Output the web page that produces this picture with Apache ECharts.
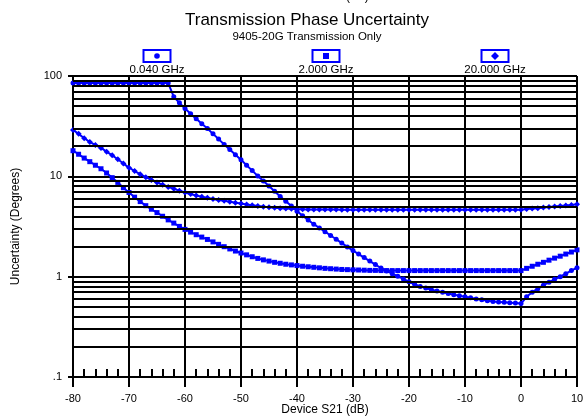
<!DOCTYPE html>
<html>
<head>
<meta charset="utf-8">
<style>
  html, body { margin: 0; padding: 0; background: #fff; }
  #chart { width: 585px; height: 418px; }
</style>
<script src="https://cdn.jsdelivr.net/npm/echarts@6/dist/echarts.min.js"></script>
</head>
<body>
<div id="chart"></div>
<script>
// Device S21 sweep, dB
const s21 = [-80,-79,-78,-77,-76,-75,-74,-73,-72,-71,-70,-69,-68,-67,-66,-65,-64,-63,-62,-61,
  -60,-59,-58,-57,-56,-55,-54,-53,-52,-51,-50,-49,-48,-47,-46,-45,-44,-43,-42,-41,
  -40,-39,-38,-37,-36,-35,-34,-33,-32,-31,-30,-29,-28,-27,-26,-25,-24,-23,-22,-21,
  -20,-19,-18,-17,-16,-15,-14,-13,-12,-11,-10,-9,-8,-7,-6,-5,-4,-3,-2,-1,
  0,1,2,3,4,5,6,7,8,9,10];

// Transmission phase uncertainty, degrees
const uncert040 = [85,85,85,85,85,85,85,85,85,85,85,85,85,85,85,85,85,85,
  62,54,47.5,42,37.5,33.5,30,26.5,23.5,20.8,
  18.5,16.4,14.6,12.9,11.4,10.1,9.0,8.0,7.1,6.3,
  5.65,5.05,4.5,4.05,3.67,3.33,3.06,2.81,2.57,2.36,
  2.16,1.98,1.82,1.68,1.55,1.43,1.32,1.22,1.14,1.07,
  1.01,0.95,0.89,0.84,0.8,0.77,0.74,0.72,0.7,0.68,
  0.66,0.645,0.63,0.615,0.6,0.59,0.575,0.565,0.56,0.555,
  0.55,0.545,0.54,0.63,0.7,0.76,0.82,0.88,0.94,1.0,
  1.07,1.15,1.23];

const uncert2000 = [18,16.6,15.2,14,12.9,11.9,10.8,9.7,8.7,7.7,
  6.9,6.2,5.6,5.1,4.7,4.35,4.0,3.68,3.42,3.17,
  2.96,2.78,2.62,2.48,2.35,2.22,2.1,1.99,1.89,1.8,
  1.72,1.65,1.58,1.52,1.47,1.43,1.39,1.36,1.33,1.31,
  1.29,1.27,1.255,1.24,1.225,1.21,1.2,1.19,1.18,1.175,
  1.17,1.165,1.16,1.155,1.155,1.15,1.15,1.15,1.15,1.15,
  1.15,1.15,1.15,1.15,1.15,1.15,1.15,1.15,1.15,1.15,
  1.15,1.15,1.15,1.15,1.15,1.15,1.15,1.15,1.15,1.15,
  1.15,1.21,1.27,1.33,1.39,1.46,1.53,1.6,1.68,1.76,
  1.85];

const uncert20000 = [29,26.5,24,22,20.5,19.2,17.6,16.2,14.8,13.4,
  12.2,11.3,10.5,9.8,9.2,8.7,8.25,7.85,7.5,7.2,
  6.9,6.65,6.45,6.25,6.1,5.95,5.82,5.7,5.58,5.46,
  5.35,5.25,5.15,5.06,4.98,4.92,4.86,4.81,4.77,4.74,
  4.71,4.69,4.68,4.67,4.67,4.66,4.66,4.66,4.65,4.65,
  4.65,4.65,4.64,4.64,4.64,4.64,4.64,4.64,4.64,4.64,
  4.64,4.64,4.64,4.64,4.64,4.64,4.64,4.64,4.64,4.64,
  4.64,4.64,4.64,4.64,4.64,4.64,4.64,4.64,4.64,4.64,
  4.65,4.72,4.77,4.82,4.88,4.94,5.0,5.06,5.12,5.19,
  5.26];

const seriesNames = ['0.040 GHz', '2.000 GHz', '20.000 GHz'];

// Intermediate log-decade grid lines
const minorGrid = [0.2,0.3,0.4,0.5,0.6,0.7,0.8,0.9, 2,3,4,5,6,7,8,9, 20,30,40,50,60,70,80,90];

const BLUE = '#0000ff';
const FONT = 'Liberation Sans, Arial, sans-serif';

function pairs(ys) { return s21.map((x, i) => [x, ys[i]]); }

const chart = echarts.init(document.getElementById('chart'), null, { renderer: 'canvas' });

const gridRect = { left: 73, top: 76, width: 504, height: 301, containLabel: false, outerBoundsMode: 'none' };

// Legend: outlined box with the series marker, label underneath
const legendX = [157, 326, 495];
const legendGraphics = [];
legendX.forEach((cx, i) => {
  legendGraphics.push({
    type: 'rect', shape: { x: cx - 13.5, y: 50, width: 27, height: 12 },
    style: { fill: '#fff', stroke: BLUE, lineWidth: 2 }
  });
  let mark;
  if (i === 0) mark = { type: 'circle', shape: { cx: cx, cy: 56, r: 2.8 }, style: { fill: BLUE } };
  else if (i === 1) mark = { type: 'rect', shape: { x: cx - 3, y: 53, width: 6, height: 6 }, style: { fill: BLUE } };
  else mark = { type: 'polygon', shape: { points: [[cx, 52], [cx + 4, 56], [cx, 60], [cx - 4, 56]] }, style: { fill: BLUE } };
  legendGraphics.push(mark);
  legendGraphics.push({
    type: 'text', x: cx, y: 70,
    style: { text: seriesNames[i], fontFamily: FONT, fontSize: 11.5, fill: '#000', align: 'center', verticalAlign: 'middle' }
  });
});

const titleGraphics = [
  { type: 'text', x: 325, y: -3, style: { text: 'Device S21 (dB)', fontFamily: FONT, fontSize: 12, fill: '#000', align: 'center', verticalAlign: 'middle' } },
  { type: 'text', x: 307, y: 20, style: { text: 'Transmission Phase Uncertainty', fontFamily: FONT, fontSize: 17, fill: '#000', align: 'center', verticalAlign: 'middle' } },
  { type: 'text', x: 307, y: 37, style: { text: '9405-20G Transmission Only', fontFamily: FONT, fontSize: 11.5, fill: '#000', align: 'center', verticalAlign: 'middle' } }
];

const markerStyle = { color: BLUE };

chart.setOption({
  animation: false,
  backgroundColor: '#fff',
  grid: [
    Object.assign({}, gridRect),
    Object.assign({}, gridRect)
  ],
  xAxis: [
    {
      type: 'value', gridIndex: 0, min: -80, max: 10, interval: 10,
      name: 'Device S21 (dB)', nameLocation: 'middle', nameGap: 27, nameMoveOverlap: false,
      nameTextStyle: { fontFamily: FONT, fontSize: 12, color: '#000' },
      axisLine: { show: true, onZero: false, lineStyle: { color: '#000', width: 2 } },
      axisTick: { show: true, inside: false, length: 10, lineStyle: { color: '#000', width: 2 } },
      axisLabel: { fontFamily: FONT, fontSize: 11, color: '#000', margin: 16 },
      splitLine: { show: true, lineStyle: { color: '#000', width: 2 } }
    },
    {
      // inward minor ticks every 2 dB along the bottom edge
      type: 'value', gridIndex: 1, min: -80, max: 10, interval: 2, position: 'bottom',
      axisLine: { show: false },
      axisTick: { show: true, inside: true, length: 8, lineStyle: { color: '#000', width: 2 } },
      axisLabel: { show: false },
      splitLine: { show: false }
    }
  ],
  yAxis: [
    {
      type: 'log', gridIndex: 0, logBase: 10, min: 0.1, max: 100,
      name: 'Uncertainty (Degrees)', nameLocation: 'middle', nameGap: 51, nameRotate: 90,
      nameTextStyle: { fontFamily: FONT, fontSize: 12, color: '#000' },
      axisLine: { show: true, onZero: false, lineStyle: { color: '#000', width: 2 } },
      axisTick: { show: true, inside: false, length: 5, lineStyle: { color: '#000', width: 2 } },
      axisLabel: {
        fontFamily: FONT, fontSize: 11, color: '#000', margin: 11,
        formatter: v => (Math.abs(v - 0.1) < 1e-6 ? '.1' : String(Math.round(v)))
      },
      splitLine: { show: true, lineStyle: { color: '#000', width: 2 } }
    },
    {
      type: 'log', gridIndex: 1, logBase: 10, min: 0.1, max: 100, show: false
    }
  ],
  graphic: titleGraphics.concat(legendGraphics),
  series: [
    {
      type: 'line', xAxisIndex: 0, yAxisIndex: 0, data: [], z: 1, silent: true,
      markLine: {
        silent: true, symbol: ['none', 'none'], animation: false,
        label: { show: false },
        lineStyle: { color: '#000', width: 2, type: 'solid' },
        emphasis: { disabled: true },
        data: minorGrid.map(v => ({ yAxis: v }))
      }
    },
    {
      name: seriesNames[0], type: 'line', data: pairs(uncert040), z: 3,
      symbol: 'circle', symbolSize: 5, showAllSymbol: true,
      lineStyle: { color: BLUE, width: 2 }, itemStyle: markerStyle
    },
    {
      name: seriesNames[1], type: 'line', data: pairs(uncert2000), z: 3,
      symbol: 'rect', symbolSize: 5, showAllSymbol: true,
      lineStyle: { color: BLUE, width: 2 }, itemStyle: markerStyle
    },
    {
      name: seriesNames[2], type: 'line', data: pairs(uncert20000), z: 3,
      symbol: 'diamond', symbolSize: 6, showAllSymbol: true,
      lineStyle: { color: BLUE, width: 2 }, itemStyle: markerStyle
    }
  ]
});
</script>
</body>
</html>
